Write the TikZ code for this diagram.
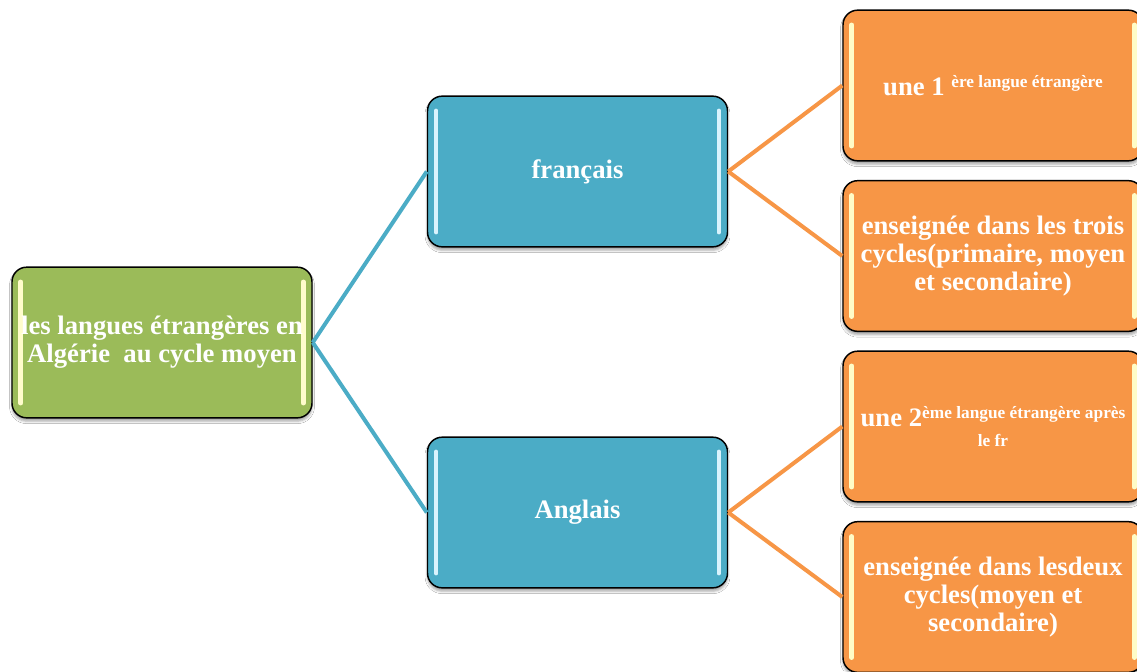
\documentclass[tikz,border=0pt]{standalone}
\usepackage{fontspec}
\setmainfont{Liberation Serif}
\usepackage{tikz}
\usetikzlibrary{positioning,shadows,shadows.blur,calc}
\definecolor{leaf}{HTML}{9BBB59}
\definecolor{sea}{HTML}{4BACC6}
\definecolor{tang}{HTML}{F79646}
\newcommand{\exposant}[1]{\raisebox{6.5pt}{\fontsize{13}{15}\selectfont #1}}
\newcommand{\petit}[1]{{\fontsize{13}{15}\selectfont #1}}

\tikzset{
  tile/.style 2 args={draw=black, line width=1.1pt, rounded corners=11pt, fill=#1,
    minimum width=225pt, minimum height=113pt, inner sep=1pt, align=center, text=white,
    font=\bfseries\fontsize{20}{21}\selectfont,
    blur shadow={shadow xshift=0pt, shadow yshift=-2.5pt, shadow opacity=35},
    path picture={
      \foreach \side/\dx in {west/6.5pt,east/-6.5pt}
        \draw[#2, line width=3.4pt, line cap=round]
          ([xshift=\dx,yshift=-11pt]path picture bounding box.north \side) --
          ([xshift=\dx,yshift=11pt]path picture bounding box.south \side);
    }},
  link/.style={draw=#1, line width=3pt},
}

\begin{document}
\begin{tikzpicture}[x=0.75pt, y=-0.75pt]
\fill[white] (0,0) rectangle (1137,671);
\useasboundingbox (0,0) rectangle (1137,671);

\node[tile={leaf}{yellow!20}] (root) at (162,342.5) {les langues étrangères en\\Algérie~ au cycle moyen};

\node[tile={sea}{cyan!15}] (fr) at (577.5,171.5) {français};
\node[tile={sea}{cyan!15}] (en) at (577.5,512.5) {Anglais};

\node[tile={tang}{yellow!22}] (fr1) at (993,85.5) {une 1 \exposant{ère langue étrangère}};
\node[tile={tang}{yellow!22}] (fr2) at (993,256) {enseignée dans les trois\\cycles(primaire, moyen\\et secondaire)};
\node[tile={tang}{yellow!22}] (en1) at (993,426.5) {une 2\exposant{ème langue étrangère après}\\[-6pt]\petit{le fr}};
\node[tile={tang}{yellow!22}] (en2) at (993,597) {enseignée dans lesdeux\\cycles(moyen et\\secondaire)};

\foreach \lang in {fr,en} \draw[link=sea] (root.east) -- (\lang.west);
\foreach \a/\b in {fr/fr1,fr/fr2,en/en1,en/en2} \draw[link=tang] (\a.east) -- (\b.west);
\end{tikzpicture}
\end{document}
